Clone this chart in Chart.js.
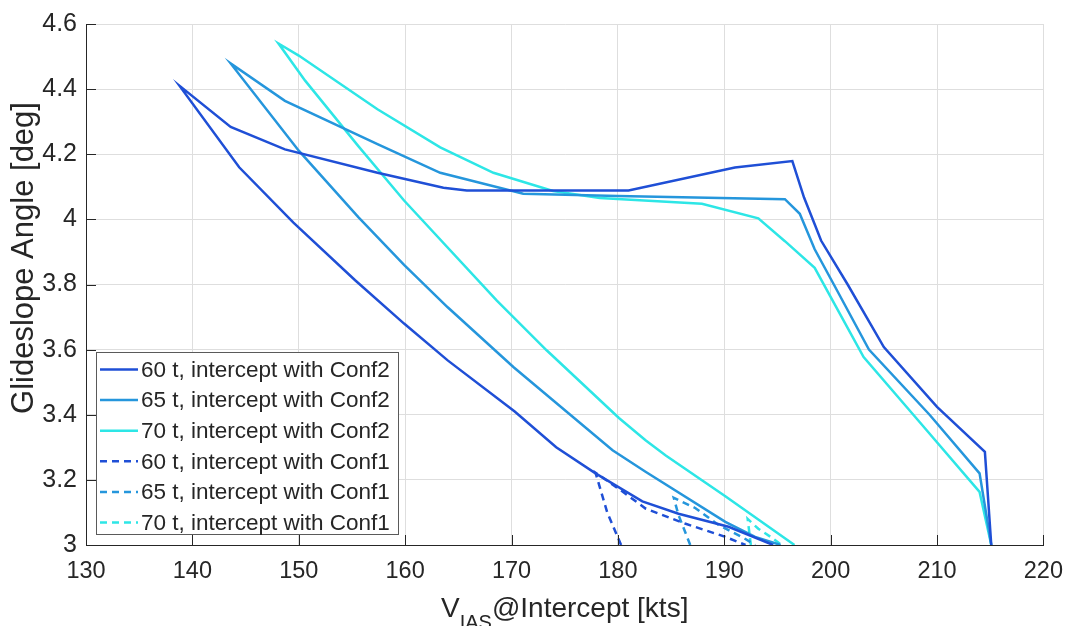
<!DOCTYPE html>
<html lang="en">
<head>
<meta charset="UTF-8">
<title>Glideslope angle vs V_IAS at intercept</title>
<script src="https://cdn.jsdelivr.net/npm/chart.js"></script>
<style>
    body { margin: 0; background: #fff; }
    #wrap { width: 1075px; height: 626px; }
</style>
</head>
<body>
<div id="wrap"><canvas id="glideChart" width="1075" height="626"></canvas></div>
<script>
    // axis ticks
    const xTicks = [130, 140, 150, 160, 170, 180, 190, 200, 210, 220];
    const yTicks = [3, 3.2, 3.4, 3.6, 3.8, 4, 4.2, 4.4, 4.6];

    // 60 t, Conf2 (loop: lower branch up to the apex, then upper branch and down)
    const x60c2 = [194.6, 190.4, 185.7, 182.3, 177.9, 174.2, 170.3, 164.0, 159.9, 155.3, 149.5, 144.4, 138.8,
                   143.6, 148.7, 157.4, 163.6, 165.8, 181.0, 191.0, 196.4, 197.5, 198.5, 199.1, 201.6, 205.0, 210.0, 214.5, 214.8, 215.1];
    const y60c2 = [3.0, 3.056, 3.096, 3.134, 3.22, 3.30, 3.41, 3.567, 3.68, 3.813, 3.99, 4.16, 4.41,
                   4.284, 4.215, 4.143, 4.097, 4.089, 4.089, 4.159, 4.179, 4.067, 3.985, 3.935, 3.80, 3.608, 3.424, 3.286, 3.143, 3.0];

    // 65 t, Conf2
    const x65c2 = [195.3, 192.9, 190.1, 182.6, 179.5, 170.2, 164.0, 159.9, 155.6, 150.0, 143.6,
                   148.7, 157.4, 163.3, 171.1, 180.0, 195.7, 197.1, 198.5, 200.3, 203.6, 209.3, 214.0, 215.1];
    const y65c2 = [3.0, 3.025, 3.071, 3.225, 3.291, 3.546, 3.73, 3.86, 4.007, 4.211, 4.479,
                   4.364, 4.231, 4.143, 4.079, 4.072, 4.062, 4.017, 3.908, 3.80, 3.60, 3.40, 3.22, 3.0];

    // 70 t, Conf2
    const x70c2 = [196.6, 190.1, 184.5, 182.6, 180.1, 173.3, 168.6, 159.9, 155.6, 150.6, 148.1,
                   150.0, 157.4, 163.3, 168.3, 173.9, 178.3, 187.9, 193.2, 195.7, 198.5, 203.1, 208.3, 214.0, 215.1];
    const y70c2 = [3.0, 3.15, 3.275, 3.322, 3.39, 3.598, 3.751, 4.058, 4.225, 4.426, 4.54,
                   4.503, 4.338, 4.221, 4.143, 4.087, 4.066, 4.048, 4.003, 3.933, 3.851, 3.577, 3.38, 3.163, 3.0];

    // Conf1 cases (dashed)
    const x60c1 = [180.3, 179.0, 177.9, 180.4, 182.6, 186.3, 190.1, 192.0];
    const y60c1 = [3.0, 3.10, 3.222, 3.165, 3.112, 3.066, 3.025, 3.0];
    const x65c1 = [186.8, 185.7, 185.25, 187.3, 189.4, 191.9, 192.9];
    const y65c1 = [3.0, 3.092, 3.145, 3.113, 3.063, 3.02, 3.0];
    const x70c1 = [192.5, 192.2, 193.2, 194.4, 195.4];
    const y70c1 = [3.0, 3.08, 3.05, 3.024, 3.0];

    const seriesLabels = [
        '60 t, intercept with Conf2',
        '65 t, intercept with Conf2',
        '70 t, intercept with Conf2',
        '60 t, intercept with Conf1',
        '65 t, intercept with Conf1',
        '70 t, intercept with Conf1'
    ];

    const colDark = '#1f4fd6';
    const colMid = '#2596dc';
    const colCyan = '#2de6e6';
    const dash = [7, 5];
    const FONT = '"Liberation Sans", Arial, Helvetica, sans-serif';
    const TXT = '#262626';

    function pts(xs, ys) {
        return xs.map((x, i) => ({ x: x, y: ys[i] }));
    }

    function ds(label, xs, ys, color, dashed) {
        return {
            label: label,
            data: pts(xs, ys),
            borderColor: color,
            backgroundColor: color,
            borderWidth: 2.5,
            borderDash: dashed ? dash : [],
            showLine: true,
            pointRadius: 0,
            fill: false,
            tension: 0
        };
    }

    // inner ticks, legend box and axis titles drawn the MATLAB way
    const matlabDecor = {
        id: 'matlabDecor',
        afterDraw(chart) {
            const ctx = chart.ctx;
            const xs = chart.scales.x, ys = chart.scales.y;
            const a = chart.chartArea;
            ctx.save();

            ctx.strokeStyle = TXT;
            ctx.lineWidth = 1;
            ctx.setLineDash([]);
            ctx.beginPath();
            xs.ticks.forEach(t => {
                const px = Math.round(xs.getPixelForValue(t.value)) + 0.5;
                ctx.moveTo(px, a.bottom);
                ctx.lineTo(px, a.bottom - 10);
            });
            ys.ticks.forEach(t => {
                const py = Math.round(ys.getPixelForValue(t.value)) + 0.5;
                ctx.moveTo(a.left, py);
                ctx.lineTo(a.left + 10, py);
            });
            ctx.stroke();

            // legend
            const bx = 96.5, by = 352.5, bw = 302, bh = 182;
            ctx.fillStyle = '#fff';
            ctx.fillRect(bx, by, bw, bh);
            ctx.strokeStyle = '#5a5a5a';
            ctx.strokeRect(bx, by, bw, bh);
            ctx.font = '22.5px ' + FONT;
            ctx.textBaseline = 'middle';
            ctx.textAlign = 'left';
            chart.data.datasets.forEach((d, i) => {
                const cy = 369.5 + i * 30.6;
                ctx.strokeStyle = d.borderColor;
                ctx.lineWidth = 2.5;
                ctx.setLineDash(d.borderDash);
                ctx.beginPath();
                ctx.moveTo(100, cy);
                ctx.lineTo(138, cy);
                ctx.stroke();
                ctx.setLineDash([]);
                ctx.fillStyle = TXT;
                ctx.fillText(d.label, 141, cy + 1);
            });

            // x title with subscript
            ctx.fillStyle = TXT;
            ctx.textBaseline = 'alphabetic';
            let tx = 441;
            const base = 617;
            ctx.font = '28px ' + FONT;
            ctx.fillText('V', tx, base);
            tx += ctx.measureText('V').width;
            ctx.font = '20px ' + FONT;
            ctx.fillText('IAS', tx, base + 12);
            tx += ctx.measureText('IAS').width;
            ctx.font = '28px ' + FONT;
            ctx.fillText('@Intercept [kts]', tx, base);

            // y title
            ctx.translate(24, 258);
            ctx.rotate(-Math.PI / 2);
            ctx.textAlign = 'center';
            ctx.textBaseline = 'middle';
            ctx.font = '31px ' + FONT;
            ctx.fillText('Glideslope Angle [deg]', 0, 0);

            ctx.restore();
        }
    };

    new Chart(document.getElementById('glideChart').getContext('2d'), {
        type: 'scatter',
        data: {
            datasets: [
                ds(seriesLabels[0], x60c2, y60c2, colDark, false),
                ds(seriesLabels[1], x65c2, y65c2, colMid, false),
                ds(seriesLabels[2], x70c2, y70c2, colCyan, false),
                ds(seriesLabels[3], x60c1, y60c1, colDark, true),
                ds(seriesLabels[4], x65c1, y65c1, colMid, true),
                ds(seriesLabels[5], x70c1, y70c1, colCyan, true)
            ]
        },
        options: {
            responsive: false,
            animation: false,
            layout: { padding: { left: 0, top: 23, right: 24, bottom: 0 } },
            plugins: {
                legend: { display: false },
                tooltip: { enabled: false }
            },
            scales: {
                x: {
                    type: 'linear',
                    min: xTicks[0],
                    max: xTicks[xTicks.length - 1],
                    afterBuildTicks: s => { s.ticks = xTicks.map(v => ({ value: v })); },
                    afterFit: s => { s.height = 81; },
                    grid: { color: '#dedede', lineWidth: 1, drawTicks: false },
                    border: { display: true, color: TXT, width: 1 },
                    ticks: {
                        color: TXT,
                        padding: 12,
                        maxRotation: 0,
                        font: { family: FONT, size: 23.5 },
                        callback: v => String(v)
                    }
                },
                y: {
                    type: 'linear',
                    min: yTicks[0],
                    max: yTicks[yTicks.length - 1],
                    afterBuildTicks: s => { s.ticks = yTicks.map(v => ({ value: v })); },
                    afterFit: s => { s.width = 86; },
                    grid: { color: '#dedede', lineWidth: 1, drawTicks: false },
                    border: { display: true, color: TXT, width: 1 },
                    ticks: {
                        color: TXT,
                        padding: 9,
                        font: { family: FONT, size: 25 },
                        callback: v => String(Math.round(v * 10) / 10)
                    }
                }
            }
        },
        plugins: [matlabDecor]
    });
</script>
</body>
</html>
